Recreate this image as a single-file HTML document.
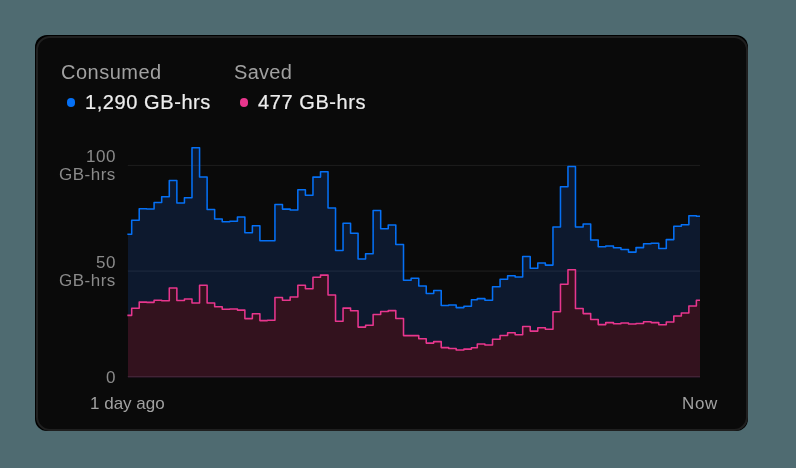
<!DOCTYPE html>
<html><head><meta charset="utf-8">
<style>
html,body{margin:0;padding:0;}
body{width:796px;height:468px;overflow:hidden;background:#4f6b71;font-family:"Liberation Sans",sans-serif;position:relative;}
.cardo{position:absolute;left:35px;top:35px;width:712.85px;height:395.8px;background:#000;border-radius:12px;}
.card{position:absolute;left:36px;top:36px;width:711.85px;height:394.8px;box-sizing:border-box;background:#0a0a0a;border:2px solid #1f1f1f;border-radius:14px;}
.t{position:absolute;white-space:nowrap;line-height:1;will-change:transform;}
.lt{font-size:20px;color:#a1a1a1;letter-spacing:0.5px;}
.lv{font-size:20px;color:#ededed;letter-spacing:0.58px;-webkit-text-stroke:0.22px #ededed;}
.ax{font-size:17px;color:#8a8a8a;text-align:right;line-height:17.8px;letter-spacing:0.5px;}
.xl{font-size:17px;color:#a1a1a1;}
.dot{position:absolute;width:8.6px;height:8.6px;border-radius:50%;}
svg{position:absolute;left:0;top:0;}
</style></head><body>
<div class="cardo"></div><div class="card"></div>
<div class="t lt" style="left:61px;top:62.4px;">Consumed</div>
<div class="t lt" style="left:233.5px;top:62.4px;letter-spacing:0.3px;">Saved</div>
<div class="dot" style="left:66.9px;top:98.4px;background:#0570f5;"></div>
<div class="t lv" style="left:85px;top:92.4px;">1,290 GB-hrs</div>
<div class="dot" style="left:239.75px;top:98.3px;background:#e8368d;"></div>
<div class="t lv" style="left:258px;top:92.4px;">477 GB-hrs</div>
<div class="t ax" style="right:680px;top:147.9px;">100<br>GB-hrs</div>
<div class="t ax" style="right:680px;top:253.8px;">50<br>GB-hrs</div>
<div class="t ax" style="right:680px;top:369.0px;">0</div>
<div class="t xl" style="left:90px;top:395px;">1 day ago</div>
<div class="t xl" style="right:78px;top:395px;letter-spacing:0.6px;">Now</div>
<svg width="796" height="468" viewBox="0 0 796 468">
<line x1="127.8" x2="700" y1="165.4" y2="165.4" stroke="#1e1e1e" stroke-width="1"/>
<line x1="127.8" x2="700" y1="271.05" y2="271.05" stroke="#212121" stroke-width="1"/>
<path d="M128.00,234.20H131.69V220.30H139.21V208.80H146.65V209.00H154.09V202.40H161.69V196.80H169.29V180.40H176.86V203.00H184.43V197.70H191.99V147.70H199.56V177.00H207.11V209.40H214.66V219.00H222.21V221.80H229.82V221.20H237.43V216.90H244.86V232.70H252.38V225.70H259.90V240.80H267.42V240.80H274.94V204.40H282.47V209.10H290.16V210.00H297.84V189.70H305.40V195.30H312.96V177.10H320.52V171.80H328.03V207.90H335.54V250.40H343.05V223.20H350.56V233.30H358.07V258.90H365.58V253.80H373.13V210.40H380.68V228.80H388.25V225.00H395.81V244.40H403.51V280.30H411.14V278.30H418.76V286.00H426.24V293.50H433.72V290.50H441.21V305.50H448.70V305.00H456.19V307.60H463.92V306.30H471.42V299.70H477.31V298.60H484.90V300.30H492.53V286.70H500.08V279.20H507.61V275.80H515.15V277.00H522.68V256.50H530.21V268.30H537.79V262.90H545.38V265.10H552.97V226.90H560.46V186.70H567.96V166.40H575.46V226.90H583.14V223.90H590.68V239.90H598.21V246.80H605.75V245.90H613.45V247.80H620.97V249.50H628.50V252.10H636.03V247.60H643.55V243.80H651.08V243.30H658.77V248.50H666.29V239.60H673.81V226.20H681.33V224.80H688.86V215.80H696.39V216.20H700.00V377.5H128.0Z" fill="rgb(36,112,255)" fill-opacity="0.15"/>
<path d="M128.00,315.35H131.69V308.20H139.21V302.10H146.65V302.35H154.09V300.20H161.69V300.70H169.29V287.90H176.86V300.40H184.43V299.00H191.99V303.00H199.56V285.25H207.11V303.00H214.66V306.80H222.21V309.20H229.82V308.90H237.43V310.10H244.86V318.60H252.38V313.70H259.90V320.60H267.42V320.30H274.94V297.40H282.47V300.20H290.16V296.90H297.84V285.20H305.40V288.80H312.96V277.30H320.52V275.10H328.03V294.90H335.54V321.30H343.05V308.10H350.56V310.80H358.07V327.10H365.58V325.20H373.13V314.50H380.68V311.50H388.25V310.60H395.81V318.50H403.51V335.60H411.14V335.60H418.76V338.70H426.24V343.10H433.72V341.60H441.21V347.60H448.70V348.40H456.19V350.00H463.92V349.10H471.42V347.80H477.31V344.00H484.90V344.90H492.53V339.20H500.08V335.45H507.61V332.80H515.15V334.70H522.68V326.50H530.21V331.10H537.79V327.80H545.38V329.30H552.97V311.65H560.46V284.30H567.96V269.80H575.46V308.40H583.14V313.60H590.68V319.40H598.21V324.60H605.75V322.60H613.45V323.80H620.97V323.00H628.50V324.00H636.03V323.50H643.55V321.70H651.08V322.60H658.77V324.70H666.29V321.90H673.81V315.90H681.33V312.90H688.86V306.00H696.39V300.20H700.00V377.5H128.0Z" fill="#33121e"/>
<path d="M127.35,234.20H131.69V220.30H139.21V208.80H146.65V209.00H154.09V202.40H161.69V196.80H169.29V180.40H176.86V203.00H184.43V197.70H191.99V147.70H199.56V177.00H207.11V209.40H214.66V219.00H222.21V221.80H229.82V221.20H237.43V216.90H244.86V232.70H252.38V225.70H259.90V240.80H267.42V240.80H274.94V204.40H282.47V209.10H290.16V210.00H297.84V189.70H305.40V195.30H312.96V177.10H320.52V171.80H328.03V207.90H335.54V250.40H343.05V223.20H350.56V233.30H358.07V258.90H365.58V253.80H373.13V210.40H380.68V228.80H388.25V225.00H395.81V244.40H403.51V280.30H411.14V278.30H418.76V286.00H426.24V293.50H433.72V290.50H441.21V305.50H448.70V305.00H456.19V307.60H463.92V306.30H471.42V299.70H477.31V298.60H484.90V300.30H492.53V286.70H500.08V279.20H507.61V275.80H515.15V277.00H522.68V256.50H530.21V268.30H537.79V262.90H545.38V265.10H552.97V226.90H560.46V186.70H567.96V166.40H575.46V226.90H583.14V223.90H590.68V239.90H598.21V246.80H605.75V245.90H613.45V247.80H620.97V249.50H628.50V252.10H636.03V247.60H643.55V243.80H651.08V243.30H658.77V248.50H666.29V239.60H673.81V226.20H681.33V224.80H688.86V215.80H696.39V216.20H700.00" fill="none" stroke="#0570f5" stroke-width="1.55" stroke-linejoin="round" stroke-linecap="butt"/>
<path d="M127.35,315.35H131.69V308.20H139.21V302.10H146.65V302.35H154.09V300.20H161.69V300.70H169.29V287.90H176.86V300.40H184.43V299.00H191.99V303.00H199.56V285.25H207.11V303.00H214.66V306.80H222.21V309.20H229.82V308.90H237.43V310.10H244.86V318.60H252.38V313.70H259.90V320.60H267.42V320.30H274.94V297.40H282.47V300.20H290.16V296.90H297.84V285.20H305.40V288.80H312.96V277.30H320.52V275.10H328.03V294.90H335.54V321.30H343.05V308.10H350.56V310.80H358.07V327.10H365.58V325.20H373.13V314.50H380.68V311.50H388.25V310.60H395.81V318.50H403.51V335.60H411.14V335.60H418.76V338.70H426.24V343.10H433.72V341.60H441.21V347.60H448.70V348.40H456.19V350.00H463.92V349.10H471.42V347.80H477.31V344.00H484.90V344.90H492.53V339.20H500.08V335.45H507.61V332.80H515.15V334.70H522.68V326.50H530.21V331.10H537.79V327.80H545.38V329.30H552.97V311.65H560.46V284.30H567.96V269.80H575.46V308.40H583.14V313.60H590.68V319.40H598.21V324.60H605.75V322.60H613.45V323.80H620.97V323.00H628.50V324.00H636.03V323.50H643.55V321.70H651.08V322.60H658.77V324.70H666.29V321.90H673.81V315.90H681.33V312.90H688.86V306.00H696.39V300.20H700.00" fill="none" stroke="#e8368d" stroke-width="1.55" stroke-linejoin="round" stroke-linecap="butt"/>
<line x1="127.8" x2="700" y1="376.6" y2="376.6" stroke="#45273a" stroke-width="1"/>
</svg>
</body></html>
